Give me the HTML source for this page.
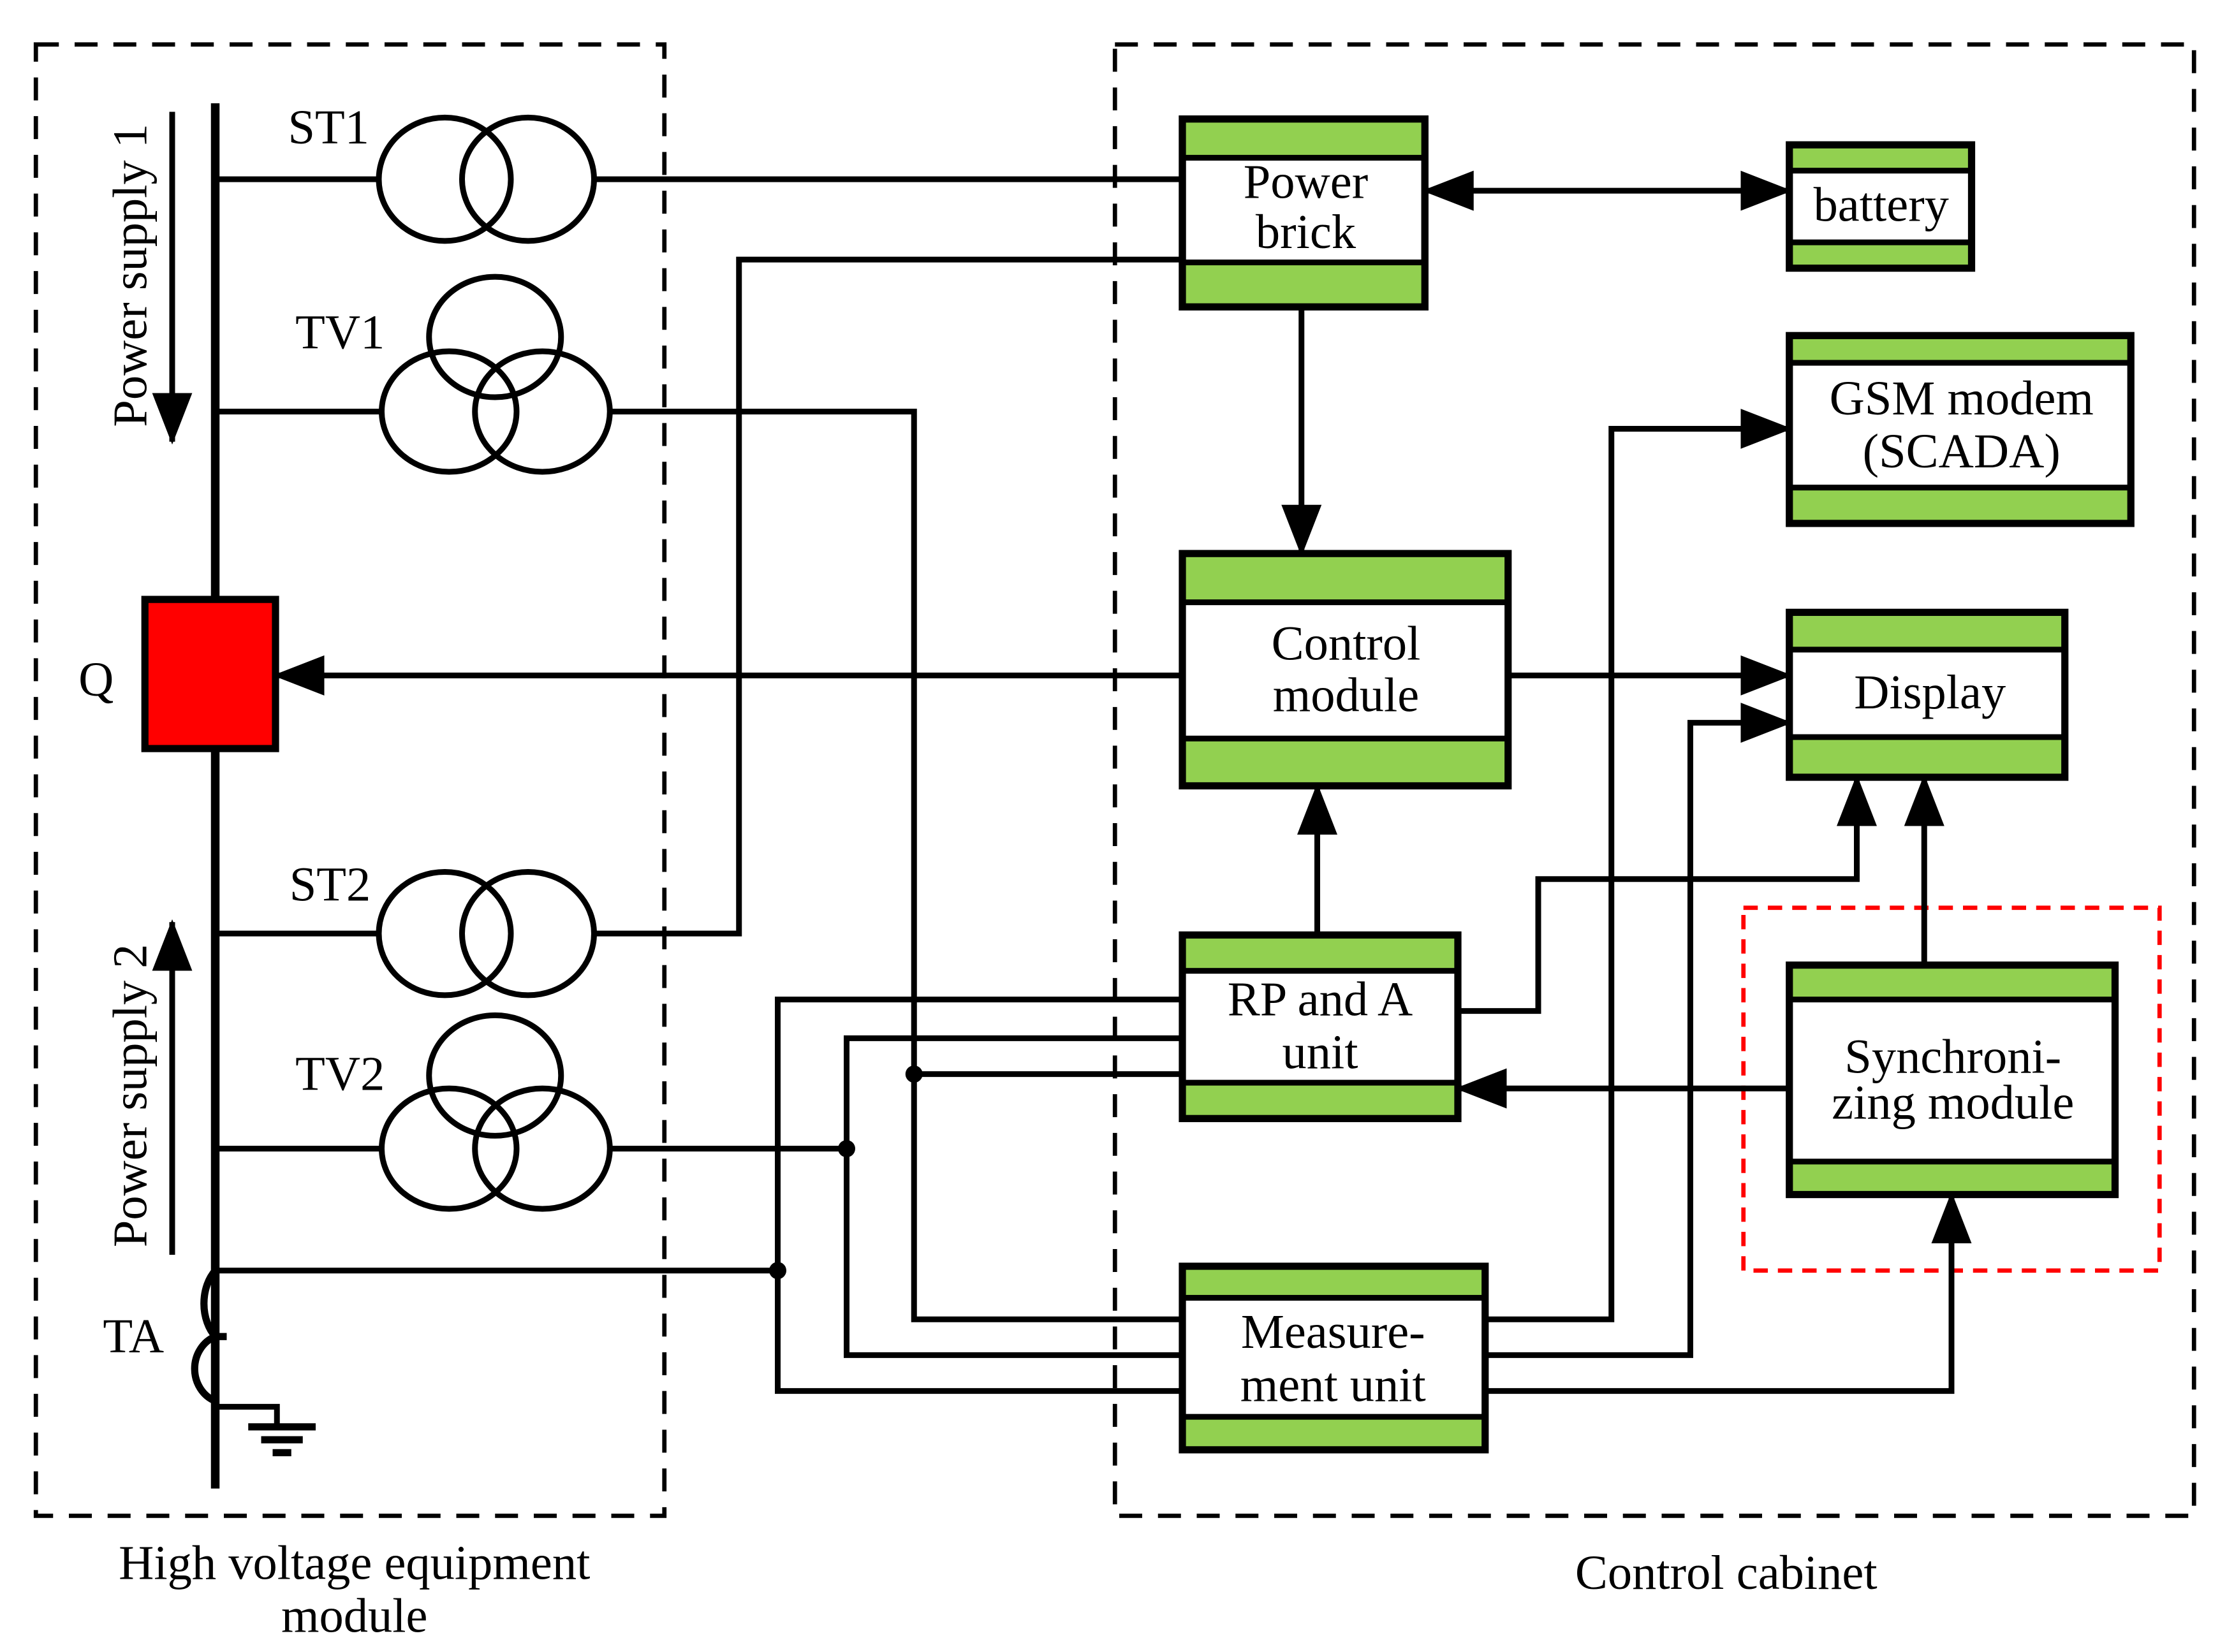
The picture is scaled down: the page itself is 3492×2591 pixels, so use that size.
<!DOCTYPE html>
<html><head><meta charset="utf-8"><style>html,body{margin:0;padding:0;background:#fff}svg{display:block}</style></head>
<body>
<svg width="3492" height="2591" viewBox="0 0 1552 1152" preserveAspectRatio="none" xmlns="http://www.w3.org/2000/svg" font-family="Liberation Serif, serif">
<defs>
<marker id="ah" markerWidth="36" markerHeight="30" refX="34" refY="14" orient="auto" markerUnits="userSpaceOnUse">
<path d="M0,0 L36,14 L0,28 Z" fill="#000"/></marker>
<marker id="as" markerWidth="36" markerHeight="30" refX="2" refY="14" orient="auto" markerUnits="userSpaceOnUse">
<path d="M36,0 L0,14 L36,28 Z" fill="#000"/></marker>
</defs>
<rect width="1552" height="1152" fill="#fff"/>
<g fill="none" stroke="#000" stroke-width="3" stroke-dasharray="16,11">
<rect x="25" y="31" width="438" height="1026"/>
<rect x="777" y="31" width="752" height="1026"/>
</g>
<rect x="1215" y="633" width="290" height="253" fill="none" stroke="#f00" stroke-width="3" stroke-dasharray="10,7"/>

<g stroke="#000" fill="none" stroke-width="4">
<!-- bus -->
<line x1="150" y1="72" x2="150" y2="1038" stroke-width="6"/>
<!-- ST1 -->
<line x1="150" y1="125" x2="265" y2="125"/>
<ellipse cx="310" cy="125" rx="46" ry="43"/><ellipse cx="368" cy="125" rx="46" ry="43"/>
<line x1="414" y1="125" x2="824" y2="125"/>
<!-- TV1 -->
<line x1="150" y1="287" x2="265" y2="287"/>
<ellipse cx="345" cy="235" rx="46" ry="42"/>
<ellipse cx="313" cy="287" rx="47" ry="42"/><ellipse cx="378" cy="287" rx="47" ry="42"/>
<polyline points="425,287 637,287 637,920 824,920"/>
<!-- ST2 -->
<line x1="150" y1="651" x2="265" y2="651"/>
<ellipse cx="310" cy="651" rx="46" ry="43"/><ellipse cx="368" cy="651" rx="46" ry="43"/>
<polyline points="414,651 515,651 515,181 824,181"/>
<!-- TV2 -->
<line x1="150" y1="801" x2="265" y2="801"/>
<ellipse cx="345" cy="750" rx="46" ry="42"/>
<ellipse cx="313" cy="801" rx="47" ry="42"/><ellipse cx="378" cy="801" rx="47" ry="42"/>
<line x1="425" y1="801" x2="590" y2="801"/>
<polyline points="824,724 590,724 590,945 824,945"/>
<line x1="637" y1="749" x2="824" y2="749"/>
<!-- TA -->
<line x1="150" y1="886" x2="542" y2="886"/>
<polyline points="824,697 542,697 542,970 824,970"/>
<path d="M150,886 A22,30 0 0 0 150,932 M150,932 A22,24 0 0 0 150,977" stroke-width="5"/>
<line x1="150" y1="932" x2="158" y2="932" stroke-width="5"/>
<polyline points="150,981 193,981 193,995"/>
<line x1="173" y1="995" x2="220" y2="995" stroke-width="5"/>
<line x1="182" y1="1004" x2="211" y2="1004" stroke-width="5"/>
<line x1="190" y1="1013" x2="203" y2="1013" stroke-width="5"/>
<!-- power supply arrows -->
<line x1="120" y1="78" x2="120" y2="308" marker-end="url(#ah)"/>
<line x1="120" y1="875" x2="120" y2="643" marker-end="url(#ah)"/>
<!-- control connections -->
<line x1="993" y1="133" x2="1247" y2="133" marker-start="url(#as)" marker-end="url(#ah)"/>
<line x1="907" y1="214" x2="907" y2="386" marker-end="url(#ah)"/>
<line x1="824" y1="471" x2="192" y2="471" marker-end="url(#ah)"/>
<line x1="1051" y1="471" x2="1247" y2="471" marker-end="url(#ah)"/>
<line x1="918" y1="652" x2="918" y2="548" marker-end="url(#ah)"/>
<polyline points="1016,705 1072,705 1072,613 1294,613 1294,542" marker-end="url(#ah)"/>
<line x1="1341" y1="673" x2="1341" y2="542" marker-end="url(#ah)"/>
<line x1="1250" y1="759" x2="1016" y2="759" marker-end="url(#ah)"/>
<polyline points="1035,920 1123,920 1123,299 1247,299" marker-end="url(#ah)"/>
<polyline points="1035,945 1178,945 1178,504 1247,504" marker-end="url(#ah)"/>
<polyline points="1035,970 1360,970 1360,833" marker-end="url(#ah)"/>
</g>
<g fill="#000"><circle cx="590" cy="801" r="6"/><circle cx="637" cy="749" r="6"/><circle cx="542" cy="886" r="6"/></g>
<!-- breaker -->
<rect x="101" y="418" width="91" height="104" fill="#f00" stroke="#000" stroke-width="5"/>

<!-- boxes -->
<g stroke="#000" stroke-width="4">
<rect x="824" y="83" width="169" height="131" fill="#fff" stroke-width="5"/>
<rect x="824" y="83" width="169" height="27" fill="#92d050"/><rect x="824" y="183" width="169" height="31" fill="#92d050"/>
<rect x="824" y="83" width="169" height="131" fill="none" stroke-width="5"/>

<rect x="1247" y="101" width="127" height="86" fill="#fff"/>
<rect x="1247" y="101" width="127" height="18" fill="#92d050"/><rect x="1247" y="169" width="127" height="18" fill="#92d050"/>
<rect x="1247" y="101" width="127" height="86" fill="none" stroke-width="5"/>

<rect x="1247" y="234" width="238" height="131" fill="#fff"/>
<rect x="1247" y="234" width="238" height="19" fill="#92d050"/><rect x="1247" y="340" width="238" height="25" fill="#92d050"/>
<rect x="1247" y="234" width="238" height="131" fill="none" stroke-width="5"/>

<rect x="824" y="386" width="227" height="162" fill="#fff"/>
<rect x="824" y="386" width="227" height="34" fill="#92d050"/><rect x="824" y="515" width="227" height="33" fill="#92d050"/>
<rect x="824" y="386" width="227" height="162" fill="none" stroke-width="5"/>

<rect x="1247" y="427" width="192" height="115" fill="#fff"/>
<rect x="1247" y="427" width="192" height="26" fill="#92d050"/><rect x="1247" y="514" width="192" height="28" fill="#92d050"/>
<rect x="1247" y="427" width="192" height="115" fill="none" stroke-width="5"/>

<rect x="824" y="652" width="192" height="128" fill="#fff"/>
<rect x="824" y="652" width="192" height="25" fill="#92d050"/><rect x="824" y="755" width="192" height="25" fill="#92d050"/>
<rect x="824" y="652" width="192" height="128" fill="none" stroke-width="5"/>

<rect x="1247" y="673" width="227" height="160" fill="#fff"/>
<rect x="1247" y="673" width="227" height="24" fill="#92d050"/><rect x="1247" y="810" width="227" height="23" fill="#92d050"/>
<rect x="1247" y="673" width="227" height="160" fill="none" stroke-width="5"/>

<rect x="824" y="883" width="211" height="128" fill="#fff"/>
<rect x="824" y="883" width="211" height="22" fill="#92d050"/><rect x="824" y="988" width="211" height="23" fill="#92d050"/>
<rect x="824" y="883" width="211" height="128" fill="none" stroke-width="5"/>
</g>

<g font-size="34" text-anchor="middle" fill="#000">
<text x="910" y="138">Power</text><text x="910" y="173">brick</text>
<text x="1311" y="154">battery</text>
<text x="1367" y="289">GSM modem</text><text x="1367" y="326">(SCADA)</text>
<text x="938" y="460">Control</text><text x="938" y="496">module</text>
<text x="1345" y="494">Display</text>
<text x="920" y="708">RP and A</text><text x="920" y="745">unit</text>
<text x="1361" y="748">Synchroni-</text><text x="1361" y="780">zing module</text>
<text x="929" y="940">Measure-</text><text x="929" y="977">ment unit</text>
<text x="229" y="100">ST1</text><text x="237" y="243">TV1</text>
<text x="230" y="628">ST2</text><text x="237" y="760">TV2</text>
<text x="67" y="485">Q</text><text x="93" y="943">TA</text>
<text x="247" y="1101">High voltage equipment</text><text x="247" y="1138">module</text>
<text x="1203" y="1108">Control cabinet</text>
<text transform="translate(102,192) rotate(-90)">Power supply 1</text>
<text transform="translate(102,764) rotate(-90)">Power supply 2</text>
</g>
</svg>
</body></html>
